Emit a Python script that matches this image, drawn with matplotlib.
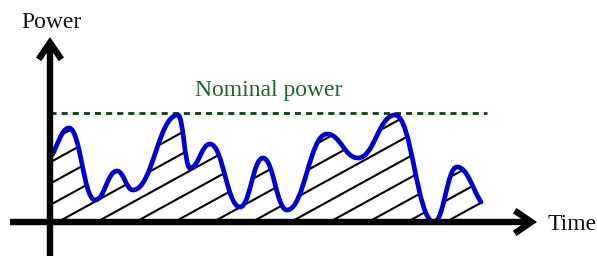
import numpy as np
import matplotlib
matplotlib.use("Agg")
import matplotlib.pyplot as plt
from matplotlib.path import Path
from matplotlib.patches import PathPatch, FancyArrowPatch, ArrowStyle

# Key points of the power curve (time, power) - extrema
times = [2, 19, 45, 67, 83, 128, 140, 160, 190, 213, 237, 277, 308, 345, 384, 407, 431]
powers = [67, 94, 22, 51, 32, 107, 54, 78, 15, 64, 12, 88, 64, 107, 0, 55, 20]
nominal_power = 109
nominal_end = 437
axis_labels = ["Power", "Time"]
nominal_label = "Nominal power"

plt.rcParams['font.family'] = ['Liberation Serif', 'DejaVu Serif']

fig = plt.figure(figsize=(5.97, 2.56), dpi=100)
ax = fig.add_axes([0, 0, 1, 1])
ax.set_xlim(-50, 547)
ax.set_ylim(-34, 222)
ax.axis('off')

# Build smooth Bezier path through key points (horizontal tangents at extrema)
k = 0.44
verts = [(times[0], powers[0])]
codes = [Path.MOVETO]
n = len(times)
for i in range(n - 1):
    x0, y0 = times[i], powers[i]
    x1, y1 = times[i + 1], powers[i + 1]
    dx = x1 - x0
    if i == 0:
        c1 = (x0 + dx / 3, y0 + (y1 - y0) / 3)
    else:
        c1 = (x0 + k * dx, y0)
    if i == n - 2:
        c2 = (x1 - dx / 3, y1 - (y1 - y0) / 3)
    else:
        c2 = (x1 - k * dx, y1)
    verts += [c1, c2, (x1, y1)]
    codes += [Path.CURVE4] * 3
curve_path = Path(verts, codes)

# Clip region: area under the curve
clip_verts = [(0, 0), (0, powers[0])] + verts + [(times[-1], 0), (0, 0)]
clip_codes = [Path.MOVETO, Path.LINETO, Path.LINETO] + codes[1:] + [Path.LINETO, Path.CLOSEPOLY]
clip_patch = PathPatch(Path(clip_verts, clip_codes), transform=ax.transData,
                       facecolor='none', edgecolor='none')
ax.add_patch(clip_patch)

# Hatch lines
slope = 0.55
spacing = 38.8
for c in np.arange(8 - 5 * spacing, times[-1] + spacing, spacing):
    hl, = ax.plot([c, c + 200], [0, 200 * slope], color='black', lw=1.5,
                  solid_capstyle='butt', zorder=2)
    hl.set_clip_path(clip_patch)

# Curve
ax.add_patch(PathPatch(curve_path, facecolor='none', edgecolor='#0000cc',
                       lw=3.4, capstyle='round', zorder=4))

# Nominal power dashed line
ax.plot([0, nominal_end], [nominal_power, nominal_power], color='#0f3d12',
        lw=2.0, linestyle=(0, (2.2, 1.8)), zorder=3)
ax.text(145, 126, nominal_label, color='#1d6434', fontsize=17,
        ha='left', va='baseline')

# Axes arrows
style = ArrowStyle('->', head_length=12, head_width=8.2)
ax.add_patch(FancyArrowPatch((0, -40), (0, 185), arrowstyle=style, lw=4.6,
                             color='black', shrinkA=0, shrinkB=0,
                             mutation_scale=1, zorder=5, joinstyle='miter',
                             capstyle='butt'))
ax.add_patch(FancyArrowPatch((-40, 0), (487, 0), arrowstyle=style, lw=4.6,
                             color='black', shrinkA=0, shrinkB=0,
                             mutation_scale=1, zorder=5, joinstyle='miter',
                             capstyle='butt'))

ax.text(-29, 194, axis_labels[0], color='#111111', fontsize=17,
        ha='left', va='baseline')
ax.text(498, -8, axis_labels[1], color='#111111', fontsize=17,
        ha='left', va='baseline')

fig.savefig('out.png', dpi=100)
